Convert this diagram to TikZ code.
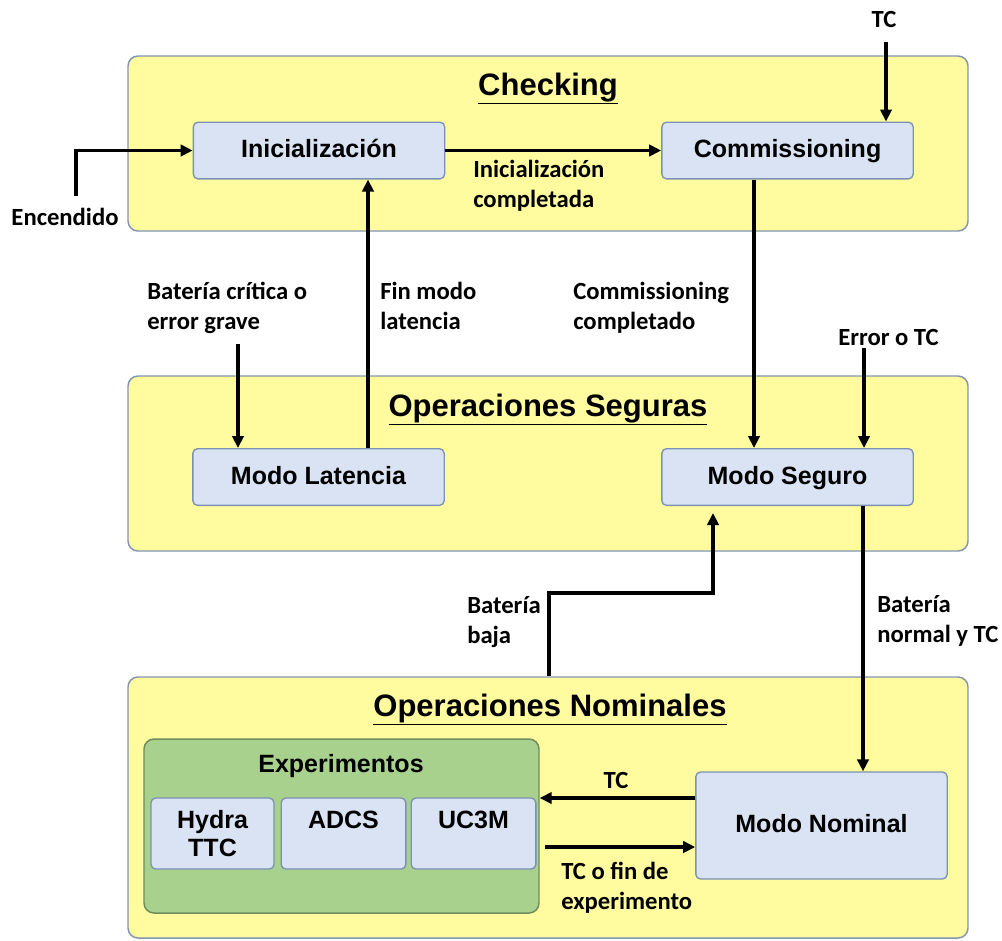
\documentclass[tikz,border=0pt]{standalone}
\usepackage{fontspec}
\setmainfont{Liberation Sans}
\newfontfamily\lblfont{Carlito}
\usetikzlibrary{arrows.meta,fit,calc}
\definecolor{panelfill}{HTML}{FFFB9E}
\definecolor{panelline}{HTML}{8196B0}
\definecolor{boxfill}{HTML}{DAE3F3}
\definecolor{boxline}{HTML}{7A92B4}
\definecolor{expfill}{HTML}{A9D18E}
\definecolor{expline}{HTML}{6E8C5E}
\begin{document}
\begin{tikzpicture}[x=0.75pt,y=-0.75pt,
  panel/.style={draw=panelline, line width=1.1pt, fill=panelfill, rounded corners=7.5pt, inner sep=0pt},
  exppanel/.style={draw=expline, line width=1.1pt, fill=expfill, rounded corners=7.5pt, inner sep=0pt},
  stepbox/.style={draw=boxline, line width=1pt, fill=boxfill, rounded corners=3.5pt,
    font=\fontsize{18.75}{22}\selectfont\bfseries, minimum width=188.5pt, minimum height=42.5pt,
    inner sep=0pt, text height=14.5pt, text depth=4pt},
  expbox/.style={stepbox, minimum width=93.5pt, minimum height=53.25pt, align=center,
    text height=, text depth=, font=\fontsize{18.75}{21}\selectfont\bfseries},
  lbl/.style={font=\lblfont\fontsize{18.5}{22.5}\selectfont\bfseries, align=left, anchor=west, inner sep=0pt},
  ptitle/.style={font=\fontsize{23.25}{28}\selectfont\bfseries, anchor=base, inner sep=0pt},
  arr/.style={line width=2.6pt, -{Triangle[length=9pt,width=8.5pt]}}]
\useasboundingbox (0,0) rectangle (1002,940);

% phase panels
\node[panel, fit={(128,56) (968,231)}] (checking) {};
\node[panel, fit={(128,376) (968,551)}] (seguras) {};
\node[panel, fit={(128,677) (968,938)}] (nominales) {};
\node[ptitle] (tcheck) at (548,95) {\underline{Checking}};
\node[ptitle] (tseg) at (548,416) {\underline{Operaciones Seguras}};
\node[ptitle] (tnom) at (550,716) {\underline{Operaciones Nominales}};

% modes
\node[stepbox] (init) at (319,150.5) {Inicialización};
\node[stepbox] (comm) at (787.5,150.5) {Commissioning};
\node[stepbox] (lat) at (318.5,477) {Modo Latencia};
\node[stepbox] (seg) at (787.5,477) {Modo Seguro};
\node[stepbox, minimum height=80.25pt] (nom) at (821.5,825.5) {Modo Nominal};

% experiments group
\node[exppanel, fit={(144,739) (539,913)}] (exps) {};
\node[ptitle, font=\fontsize{18.75}{22}\selectfont\bfseries] (texp) at (341,772) {Experimentos};
\node[expbox, minimum width=92.25pt] (hydra) at (212.5,833.5) {Hydra\\TTC};
\node[expbox] (adcs) at (343.5,833.5) {ADCS\\\mbox{}};
\node[expbox] (uc3m) at (473.5,833.5) {UC3M\\\mbox{}};

% helper coordinates
\coordinate (enc) at (76,196);
\coordinate (tcin) at (886,42);
\coordinate (xcomm) at (754,0);
\coordinate (errin) at (864,348);
\coordinate (batc) at (238,344);
\coordinate (xlat) at (368,0);
\coordinate (xbb) at (549,0);
\coordinate (bbturn) at (713,593);
\coordinate (bbend) at (713,513);
\coordinate (xbn) at (863,0);
\coordinate (ytc) at (0,798);
\coordinate (finstart) at (545,847);

% transitions
\draw[arr] (enc) |- (init.west);
\draw[arr] (init.east) -- (comm.west);
\draw[arr] (tcin) -- (tcin |- comm.north);
\draw[arr] (comm.south -| xcomm) -- (seg.north -| xcomm);
\draw[arr] (errin) -- (errin |- seg.north);
\draw[arr] (batc) -- (batc |- lat.north);
\draw[arr] (lat.north -| xlat) -- (init.south -| xlat);
\draw[arr] (nominales.north -| xbb) |- (bbturn) -- (bbend);
\draw[arr] (seg.south -| xbn) -- (nom.north -| xbn);
\draw[arr] (nom.west |- ytc) -- (exps.east |- ytc);
\draw[arr] (finstart) -- (nom.west |- finstart);

% transition labels
\node[lbl, anchor=center] (lenc) at (65,217) {Encendido};
\node[lbl] (linit) at (473,186) {Inicialización\\completada};
\node[lbl, anchor=center] (ltc) at (884,19) {TC};
\node[lbl] (lbatc) at (147,308) {Batería crítica o\\error grave};
\node[lbl] (lfin) at (380,306) {Fin modo\\latencia};
\node[lbl] (lcomm) at (573,308) {Commissioning\\completado};
\node[lbl] (lerr) at (838,337) {Error o TC};
\node[lbl] (lbb) at (467,622) {Batería\\baja};
\node[lbl] (lbn) at (877,621) {Batería\\normal y TC};
\node[lbl, anchor=center] (ltcn) at (616,780) {TC};
\node[lbl] (lfinexp) at (561,888) {TC o fin de\\experimento};
\end{tikzpicture}
\end{document}
